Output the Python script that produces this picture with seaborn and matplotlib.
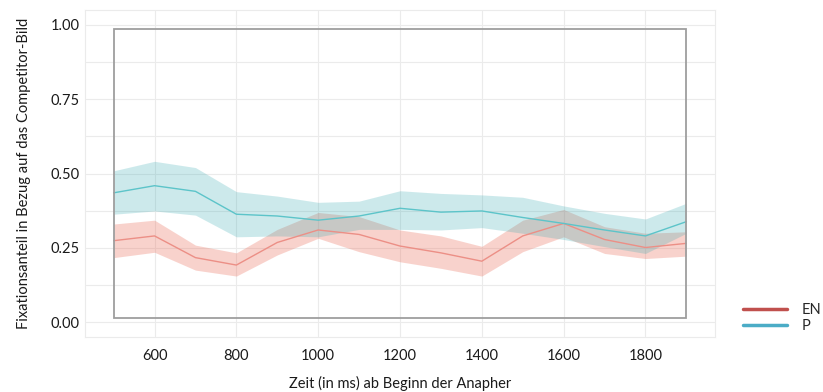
import numpy as np
import pandas as pd
import matplotlib
matplotlib.use("Agg")
import matplotlib.pyplot as plt
import seaborn as sns
from matplotlib.lines import Line2D
from matplotlib.patches import Rectangle

# ---- data ----
zeit = [500, 600, 700, 800, 900, 1000, 1100, 1200, 1300, 1400, 1500, 1600, 1700, 1800, 1900]
en_mean = [0.274, 0.290, 0.217, 0.192, 0.268, 0.310, 0.295, 0.256, 0.233, 0.205, 0.290, 0.332, 0.278, 0.251, 0.265]
en_lower = [0.217, 0.235, 0.175, 0.155, 0.226, 0.282, 0.237, 0.203, 0.181, 0.155, 0.237, 0.287, 0.231, 0.214, 0.222]
en_upper = [0.330, 0.343, 0.259, 0.233, 0.312, 0.369, 0.355, 0.310, 0.290, 0.255, 0.343, 0.379, 0.321, 0.299, 0.304]
p_mean = [0.435, 0.459, 0.440, 0.363, 0.357, 0.343, 0.357, 0.383, 0.370, 0.374, 0.352, 0.332, 0.310, 0.290, 0.338]
p_lower = [0.363, 0.374, 0.360, 0.287, 0.290, 0.287, 0.312, 0.312, 0.310, 0.318, 0.299, 0.278, 0.254, 0.231, 0.299]
p_upper = [0.509, 0.541, 0.520, 0.439, 0.424, 0.403, 0.407, 0.442, 0.433, 0.428, 0.420, 0.391, 0.366, 0.347, 0.400]
gruppen = ["EN", "P"]
x_ticks = [600, 800, 1000, 1200, 1400, 1600, 1800]
y_ticks = [0.00, 0.25, 0.50, 0.75, 1.00]
y_ticklabels = ["0.00", "0.25", "0.50", "0.75", "1.00"]

df = pd.DataFrame({
    "zeit": zeit * 2,
    "anteil": en_mean + p_mean,
    "gruppe": ["EN"] * len(zeit) + ["P"] * len(zeit),
})

sns.set_theme(style="white")
plt.rcParams["font.family"] = ["Lato", "DejaVu Sans"]

fig = plt.figure(figsize=(8.23, 3.92), dpi=100)
ax = fig.add_axes([85 / 823, 55 / 392, 630 / 823, 327 / 392])

line_cols = {"EN": "#ec8f86", "P": "#5cc4c9"}
fill_cols = {"EN": "#eb6c58", "P": "#37abb3"}
leg_cols = {"EN": "#c0504d", "P": "#4bacc6"}

# grid
for yv in np.arange(0, 1.01, 0.125):
    ax.axhline(yv, color="#ebebeb", lw=0.8, zorder=0)
for xv in x_ticks:
    ax.axvline(xv, color="#ebebeb", lw=0.8, zorder=0)

ax.fill_between(zeit, en_lower, en_upper, color=fill_cols["EN"], alpha=0.3, lw=0, zorder=1)
ax.fill_between(zeit, p_lower, p_upper, color=fill_cols["P"], alpha=0.25, lw=0, zorder=1)

sns.lineplot(data=df, x="zeit", y="anteil", hue="gruppe", palette=line_cols,
             hue_order=gruppen, lw=1.0, ax=ax, legend=False, zorder=2)

ax.add_patch(Rectangle((500, 0.013), 1400, 0.974, fill=False, edgecolor="#9e9e9e",
                       lw=1.3, zorder=3))

ax.set_xlim(430, 1970)
ax.set_ylim(-0.05, 1.05)
ax.set_xticks(x_ticks)
ax.set_xticklabels([str(v) for v in x_ticks])
ax.set_yticks(y_ticks)
ax.set_yticklabels(y_ticklabels)
ax.tick_params(axis="both", length=0, labelsize=10.5, colors="#1a1a1a")
ax.tick_params(axis="x", pad=9)
ax.tick_params(axis="y", pad=4)
for s in ax.spines.values():
    s.set_color("#ebebeb")
    s.set_linewidth(0.8)

ax.set_xlabel("Zeit (in ms) ab Beginn der Anapher", fontsize=10.5, color="#1a1a1a", labelpad=9)
ax.set_ylabel("Fixationsanteil in Bezug auf das Competitor-Bild", fontsize=10.5,
              color="#1a1a1a", labelpad=14)

handles = [Line2D([0], [0], color=leg_cols[g], lw=2.5) for g in gruppen]
fig.legend(handles, gruppen, loc="center left", bbox_to_anchor=(743 / 823, 1 - 318 / 392),
           frameon=False, fontsize=10.5, handlelength=3.0, handletextpad=1.0,
           labelspacing=0.1, borderpad=0, borderaxespad=0)

fig.savefig("out.png", dpi=100)
